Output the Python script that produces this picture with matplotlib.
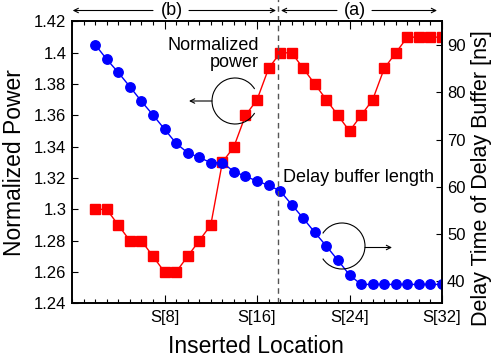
import matplotlib
matplotlib.use("Agg")
import matplotlib.pyplot as plt
from matplotlib.patches import Arc
from matplotlib.ticker import FixedLocator, FuncFormatter, MultipleLocator
import matplotlib.transforms as mtransforms

plt.rcParams['font.family'] = ['Liberation Sans', 'DejaVu Sans']

# ---- data ----
locations = list(range(2, 33))
norm_power = [1.30, 1.30, 1.29, 1.28, 1.28, 1.27, 1.26, 1.26, 1.27, 1.28, 1.29,
              1.33, 1.34, 1.36, 1.37, 1.39, 1.40, 1.40, 1.39, 1.38, 1.37, 1.36,
              1.35, 1.36, 1.37, 1.39, 1.40, 1.41, 1.41, 1.41, 1.41]
delay_time = [90.1, 87.0, 84.2, 81.2, 78.1, 75.2, 72.2, 69.2, 67.2, 66.2, 65.1,
              65.1, 63.2, 62.2, 61.2, 60.3, 59.1, 56.2, 53.3, 50.3, 47.4, 44.4,
              41.3, 39.3, 39.3, 39.3, 39.3, 39.3, 39.3, 39.3, 39.3]
x_ticks = [8, 16, 24, 32]
x_tick_labels = ['S[8]', 'S[16]', 'S[24]', 'S[32]']
left_ticks = [1.24, 1.26, 1.28, 1.30, 1.32, 1.34, 1.36, 1.38, 1.40, 1.42]
right_ticks = [40, 50, 60, 70, 80, 90]
boundary = 17.8

fig = plt.figure(figsize=(4.95, 3.6), dpi=100)
ax = fig.add_axes([0.1455, 0.1575, 0.7475, 0.7828])
ax2 = ax.twinx()

ax.plot(locations, norm_power, color='#ff0000', lw=1, marker='s', ms=7,
        mfc='#ff0000', mec='#ff0000')
ax2.plot(locations, delay_time, color='#0000ff', lw=1, marker='o', ms=6.8,
         mfc='#0000ff', mec='#0000ff')

ax.set_xlim(0, 32)
ax.set_ylim(1.24, 1.42)
ax2.set_ylim(35.3, 95.0)

ax.xaxis.set_major_locator(FixedLocator(x_ticks))
ax.set_xticklabels(x_tick_labels)
ax.xaxis.set_minor_locator(MultipleLocator(1))
ax.yaxis.set_major_locator(FixedLocator(left_ticks))
ax.yaxis.set_major_formatter(FuncFormatter(lambda v, p: f"{round(v, 2):g}"))
ax2.yaxis.set_major_locator(FixedLocator(right_ticks))

ax.tick_params(axis='x', which='major', direction='in', top=True, length=6,
               width=0.8, labelsize=12, pad=5)
ax.tick_params(axis='x', which='minor', direction='in', top=True, length=3,
               width=0.8)
ax.tick_params(axis='y', which='major', direction='in', right=False, length=4,
               width=0.8, labelsize=12, pad=4)
ax2.tick_params(axis='y', which='major', direction='in', length=4, width=0.8,
                labelsize=12, pad=3.5)
for a in (ax, ax2):
    for s in a.spines.values():
        s.set_linewidth(1.2)

ax.set_xlabel('Inserted Location', fontsize=16.5)
ax.set_ylabel('Normalized Power', fontsize=16.5)
ax2.set_ylabel('Delay Time of Delay Buffer [ns]', fontsize=15.5)
ax.xaxis.set_label_coords(0.497, -0.112)
ax.yaxis.set_label_coords(-0.124, 0.5)
ax2.yaxis.set_label_coords(1.077, 0.443)

# dashed boundary
trans = mtransforms.blended_transform_factory(ax.transData, ax.transAxes)
ax2.plot([boundary, boundary], [0, 1.08], transform=trans, color='#555555',
         lw=1, ls=(0, (4, 3)), clip_on=False)

# top region arrows (figure pixels, origin bottom-left)
H = 360
arrow_kw = dict(arrowstyle='->', lw=0.8, color='black', shrinkA=0, shrinkB=0,
                mutation_scale=8)
for start, end in [(153, 72.7), (189, 276), (337, 281), (372, 437)]:
    ax2.annotate('', xy=(end, H - 10.5), xytext=(start, H - 10.5),
                 xycoords='figure pixels', textcoords='figure pixels',
                 arrowprops=arrow_kw, annotation_clip=False)
fig.text(172 / 495, 1 - 10.5 / H, '(b)', fontsize=13, ha='center', va='center')
fig.text(354.5 / 495, 1 - 10.5 / H, '(a)', fontsize=13, ha='center', va='center')

# annotations
fig.text(259 / 495, 1 - 54 / H, 'Normalized\npower', fontsize=13, ha='right',
         va='center', multialignment='right', linespacing=1.05)
fig.text(283 / 495, 1 - 178 / H, 'Delay buffer length', fontsize=13, ha='left',
         va='center')

r = 23
fig.add_artist(Arc((235 / 495, 1 - 101 / H), 2 * r / 495, 2 * r / H,
                   theta1=40, theta2=320, transform=fig.transFigure,
                   color='black', lw=0.8))
fig.add_artist(Arc((342 / 495, 1 - 246 / H), 2 * r / 495, 2 * r / H,
                   theta1=222, theta2=138, transform=fig.transFigure,
                   color='black', lw=0.8))
ax2.annotate('', xy=(189, H - 101), xytext=(212, H - 101),
             xycoords='figure pixels', textcoords='figure pixels',
             arrowprops=arrow_kw, annotation_clip=False)
ax2.annotate('', xy=(392, H - 247.5), xytext=(365, H - 247.5),
             xycoords='figure pixels', textcoords='figure pixels',
             arrowprops=arrow_kw, annotation_clip=False)

fig.savefig('out.png', dpi=100)
